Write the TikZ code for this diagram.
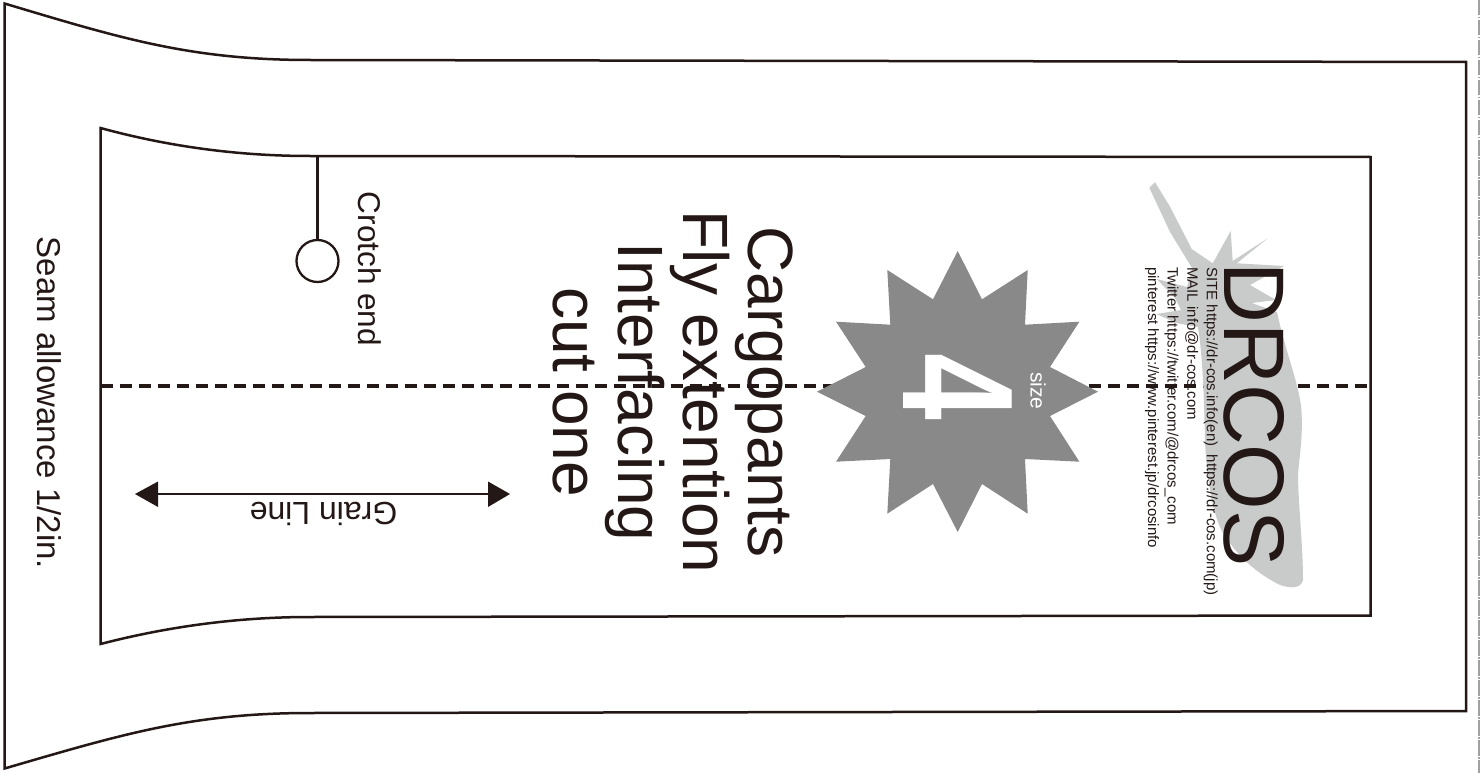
\documentclass[tikz,border=0pt]{standalone}
\usepackage{fontspec}
\setmainfont{Liberation Sans}
\definecolor{ink}{HTML}{231815}
\definecolor{leafgrey}{HTML}{C9CACA}
\definecolor{stargrey}{HTML}{898989}
\definecolor{foldgrey}{HTML}{A0A0A0}
\tikzset{
  outline/.style={draw=ink,line width=2.5pt,line join=miter},
  label/.style={text=ink,inner sep=0pt,rotate=-90,align=center},
  fs/.style={font=\fontsize{#1}{#1}\selectfont}
}
\begin{document}
\begin{tikzpicture}[x=1pt,y=-1pt]
\useasboundingbox (0,0) rectangle (1480,773);
\fill[white] (0,0) rectangle (1480,773);
% fold line
\draw[foldgrey,line width=1.5pt,dash pattern=on 15.5pt off 1.8pt on 1.2pt off 1.5pt] (1478.8,0) -- (1478.8,773);
% outer outline
\draw[outline] (4.5,3.5) .. controls (120,38) and (190,60) .. (310,60) -- (1466,62) -- (1466,711) -- (310,713) .. controls (190,713) and (120,735) .. (4.5,768.5) -- cycle;
% inner outline
\draw[outline] (100.5,128) .. controls (170,147) and (240,156) .. (310,156) -- (1370.5,157) -- (1370.5,615.5) -- (310,617) .. controls (240,617) and (170,626) .. (100.5,644) -- cycle;
% grain centre line
\draw[ink,line width=3.2pt,dash pattern=on 12pt off 7pt] (100.5,386) -- (1370.5,386);
% bird
\fill[leafgrey] (1149.3,187.7) -- (1155,182.3) -- (1170,206.7) -- (1191.7,249) -- (1212.7,263.3) -- (1230.7,231) -- (1232.7,261) -- (1267.7,238.3) -- (1236.7,263.3) -- (1284,266) -- (1250,285) -- (1276,300) -- (1251.7,303) -- (1277,312)
  .. controls (1285,350) and (1296,375) .. (1301,405)
  .. controls (1304,440) and (1298,460) .. (1298,480)
  .. controls (1299,510) and (1303,550) .. (1303,580)
  .. controls (1301,588) and (1292,589) .. (1280,585)
  .. controls (1260,575) and (1240,560) .. (1223,533)
  .. controls (1212,515) and (1206,470) .. (1205,440)
  .. controls (1204,400) and (1203,360) .. (1198,327)
  -- (1176,323) -- (1156.7,314) -- (1181,310) -- (1175,298) -- (1156.7,279) -- (1187,287) -- (1192,268) -- (1170,232) -- cycle;
% star
\fill[stargrey] (957.7,251) -- (982,299.3) -- (1027.7,270) -- (1025,324.7) -- (1079.4,321.7) -- (1050,367) -- (1098,391.7) -- (1050,416) -- (1079.4,461.7) -- (1025,459) -- (1027.7,513.7) -- (982,484) -- (957.7,532) -- (933,484) -- (887.3,513.7) -- (890.3,459) -- (836,461.7) -- (865.7,416) -- (817,391.7) -- (865.7,367) -- (836,321.7) -- (890.3,324.7) -- (887.3,270) -- (933,299.3) -- cycle;
\node[label,text=white,font=\fontsize{158}{158}\selectfont\bfseries] (sizenum) at (957.5,386.5) {\scalebox{0.76}[1]{4}};
\node[label,text=white,fs=21] (sizeword) at (1038,391) {size};
% brand
\node[label,fs=86] (brand) at (1254,414.5) {\scalebox{0.98}[1]{DRCOS}};
\node[label,align=left,anchor=north west,font=\fontsize{15}{19.6}\selectfont] (contact) at (1218,267) {SITE https://dr-cos.info(en)\ \ https://dr-cos.com(jp)\\MAIL info@dr-cos.com\\Twitter https://twitter.com/@drcos\_com\\pinterest https://www.pinterest.jp/drcosinfo};
% title
\node[label,font=\fontsize{64}{65}\selectfont] (title) at (673,392) {Cargopants\\Fly extention\\Interfacing\\cut one};
% seam
\node[label,fs=33] (seam) at (49,403) {Seam allowance 1/2in.};
% crotch mark
\coordinate (crotchtop) at (317.5,156);
\node[circle,draw=ink,line width=2.3pt,minimum size=42pt,inner sep=0pt] (crotchmark) at (317.5,261) {};
\draw[ink,line width=2.3pt] (crotchtop) -- (crotchmark.north);
\node[label,fs=31.5] (crotch) at (370,269) {Crotch end};
% grain arrow
\coordinate (grainl) at (135,494);
\coordinate (grainr) at (510,494);
\draw[ink,line width=2.5pt] (158,494) -- (488,494);
\fill[ink] (grainl) -- (158,481.5) -- (158,507) -- cycle;
\fill[ink] (grainr) -- (488,481.5) -- (488,507) -- cycle;
\node[text=ink,inner sep=0pt,rotate=180,fs=32] (grain) at (323.5,514) {Grain Line};
\end{tikzpicture}
\end{document}
